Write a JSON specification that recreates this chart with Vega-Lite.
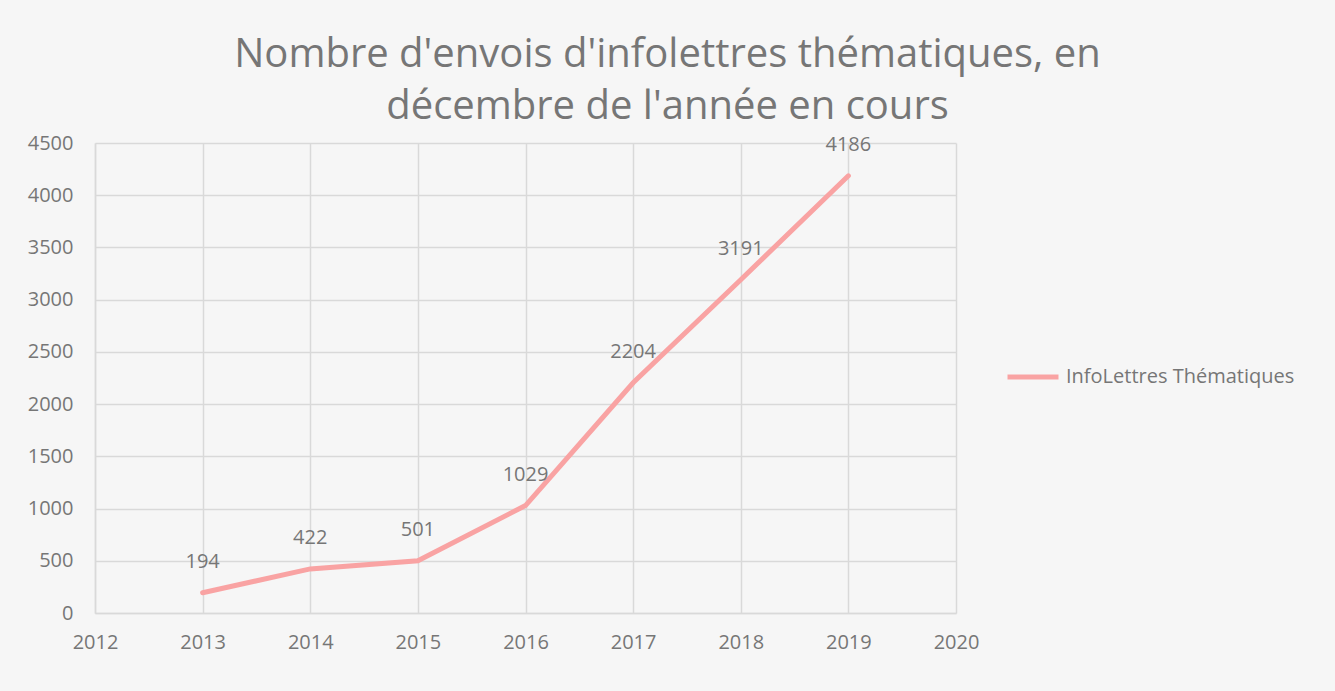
{
  "$schema": "https://vega.github.io/schema/vega-lite/v6.json",
  "autosize": {"type": "none"},
  "width": 861,
  "height": 470,
  "padding": {"left": 95, "top": 143, "right": 379, "bottom": 78},
  "background": "#f6f6f6",
  "title": {
    "text": ["Nombre d'envois d'infolettres thématiques, en", "décembre de l'année en cours"],
    "anchor": "middle",
    "dx": 142,
    "offset": 6,
    "font": "Open Sans",
    "fontSize": 40,
    "fontWeight": "normal",
    "color": "#767676",
    "lineHeight": 52,
    "limit": 1300
  },
  "data": {
    "values": [
      {"annee": 2013, "valeur": 194, "serie": "InfoLettres Thématiques"},
      {"annee": 2014, "valeur": 422, "serie": "InfoLettres Thématiques"},
      {"annee": 2015, "valeur": 501, "serie": "InfoLettres Thématiques"},
      {"annee": 2016, "valeur": 1029, "serie": "InfoLettres Thématiques"},
      {"annee": 2017, "valeur": 2204, "serie": "InfoLettres Thématiques"},
      {"annee": 2018, "valeur": 3191, "serie": "InfoLettres Thématiques"},
      {"annee": 2019, "valeur": 4186, "serie": "InfoLettres Thématiques"}
    ]
  },
  "encoding": {
    "x": {
      "field": "annee", "type": "quantitative",
      "scale": {"domain": [2012, 2020], "nice": false, "zero": false},
      "axis": {"title": null, "format": "d", "values": [2012, 2013, 2014, 2015, 2016, 2017, 2018, 2019, 2020],
               "grid": true, "gridColor": "#d9d9d9", "gridWidth": 1.5,
               "domainColor": "#d9d9d9", "domainWidth": 1.5, "ticks": false, "labelFlush": false,
               "labelPadding": 19, "labelFont": "Open Sans", "labelFontSize": 20, "labelColor": "#767676"}
    },
    "y": {
      "field": "valeur", "type": "quantitative",
      "scale": {"domain": [0, 4500], "nice": false},
      "axis": {"title": null, "format": "d", "values": [0, 500, 1000, 1500, 2000, 2500, 3000, 3500, 4000, 4500],
               "grid": true, "gridColor": "#d9d9d9", "gridWidth": 1.5, "labelFlush": false,
               "domainColor": "#d9d9d9", "domainWidth": 1.5, "ticks": false,
               "labelPadding": 22, "labelFont": "Open Sans", "labelFontSize": 20, "labelColor": "#767676"}
    }
  },
  "layer": [
    {
      "mark": {"type": "line", "strokeWidth": 5, "strokeCap": "round"},
      "encoding": {
        "color": {
          "field": "serie", "type": "nominal",
          "scale": {"range": ["#f9a3a3"]},
          "legend": {
            "title": null, "orient": "none", "legendX": 910, "legendY": 206,
            "symbolType": "stroke", "symbolSize": 2601, "symbolStrokeWidth": 5, "labelLimit": 400,
            "labelFont": "Open Sans", "labelFontSize": 20, "labelColor": "#767676", "labelOffset": 5
          }
        }
      }
    },
    {
      "mark": {"type": "text", "dy": -31, "font": "Open Sans", "fontSize": 20, "color": "#767676"},
      "encoding": {"text": {"field": "valeur", "type": "quantitative", "format": "d"}}
    }
  ],
  "config": {"view": {"stroke": null}}
}
